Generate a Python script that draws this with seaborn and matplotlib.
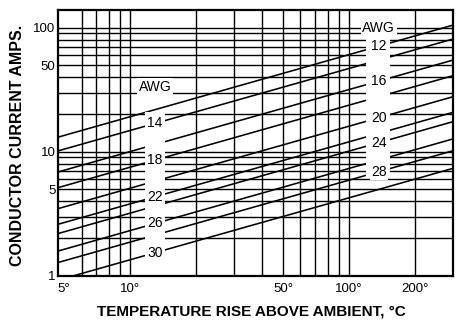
import matplotlib
matplotlib.use('Agg')
import matplotlib.pyplot as plt
import matplotlib.ticker as mticker
from matplotlib.patches import Rectangle
import pandas as pd
import seaborn as sns

# AWG lines: current (A) at 4 and 300 deg C rise
gauges = [12, 14, 16, 18, 20, 22, 24, 26, 28, 30]
temp_ends = [4, 300]
amps_at_4 = [12.1, 9.38, 6.34, 4.74, 3.21, 2.40, 2.02, 1.46, 1.18, 0.85]
amps_at_300 = [105.1, 81.2, 54.9, 41.1, 27.8, 20.8, 17.5, 12.7, 10.2, 7.35]

# gauge labels: left column sits at 13 deg, right column at 137 deg
left_temp = 13
left_gauges = [14, 18, 22, 26, 30]
left_amps = [16.9, 8.57, 4.34, 2.65, 1.53]
left_awg_amps = 33.4
right_temp = 137
right_gauges = [12, 16, 20, 24, 28]
right_amps = [71.2, 37.2, 18.8, 11.8, 6.9]
right_awg_amps = 98.9

x_ticks = [5, 10, 50, 100, 200]
x_ticklabels = ['5°', '10°', '50°', '100°', '200°']
y_ticks = [1, 5, 10, 50, 100]
y_ticklabels = ['1', '5', '10', '50', '100']
x_grid = [6, 7, 8, 9, 10, 20, 30, 40, 50, 60, 70, 80, 90, 100, 200]
y_grid = [2, 3, 4, 5, 6, 7, 8, 9, 10, 20, 30, 40, 50, 60, 70, 80, 90, 100]

sns.set_style('white')
plt.rcParams['font.family'] = ['Liberation Sans', 'DejaVu Sans']
plt.rcParams['text.color'] = 'black'
plt.rcParams['axes.labelcolor'] = 'black'
plt.rcParams['xtick.color'] = 'black'
plt.rcParams['ytick.color'] = 'black'

# long table for seaborn
rows = []
for g, a0, a1 in zip(gauges, amps_at_4, amps_at_300):
    rows.append({'gauge': g, 'temp': temp_ends[0], 'amps': a0})
    rows.append({'gauge': g, 'temp': temp_ends[1], 'amps': a1})
df = pd.DataFrame(rows)

fig = plt.figure(figsize=(4.61, 3.22), dpi=100)
ax = fig.add_axes([0.1265, 0.1438, 0.8568, 0.8252])
ax.set(xscale='log', yscale='log')

sns.lineplot(data=df, x='temp', y='amps', units='gauge', estimator=None,
             color='black', lw=1.15, ax=ax, zorder=2)

ax.set_xlim(4.7, 300)
ax.set_ylim(1, 139)

ax.set_xticks(x_ticks)
ax.set_xticklabels(x_ticklabels, fontsize=9.5)
ax.set_yticks(y_ticks)
ax.set_yticklabels(y_ticklabels, fontsize=9.5)
ax.xaxis.set_minor_locator(mticker.FixedLocator(x_grid))
ax.yaxis.set_minor_locator(mticker.FixedLocator(y_grid))
ax.xaxis.set_minor_formatter(mticker.NullFormatter())
ax.yaxis.set_minor_formatter(mticker.NullFormatter())
ax.xaxis.remove_overlapping_locs = False
ax.yaxis.remove_overlapping_locs = False
ax.tick_params(which='both', length=0)
ax.tick_params(axis='x', pad=5)
ax.tick_params(axis='y', pad=2)
ax.grid(False, which='major')
ax.grid(True, which='minor', color='black', lw=1.0)
ax.set_axisbelow(True)
for s in ax.spines.values():
    s.set_color('black')
    s.set_linewidth(1.6)

# white label columns that break the lines
ax.add_patch(Rectangle((11.7, 1.3), 14.5 - 11.7, 20.8 - 1.3,
                       facecolor='white', edgecolor='none', zorder=3))
ax.add_patch(Rectangle((119.7, 6.3), 154 - 119.7, 95 - 6.3,
                       facecolor='white', edgecolor='none', zorder=3))

box = dict(facecolor='white', edgecolor='none', pad=1)
ax.text(left_temp, left_awg_amps, 'AWG', ha='center', va='center',
        fontsize=10, bbox=box, zorder=4)
ax.text(right_temp, right_awg_amps, 'AWG', ha='center', va='center',
        fontsize=10, bbox=box, zorder=4)
for g, a in zip(left_gauges, left_amps):
    ax.text(left_temp, a, str(g), ha='center', va='center',
            fontsize=10, bbox=box, zorder=4)
for g, a in zip(right_gauges, right_amps):
    ax.text(right_temp, a, str(g), ha='center', va='center',
            fontsize=10, bbox=box, zorder=4)

ax.set_xlabel('TEMPERATURE RISE ABOVE AMBIENT, °C', fontsize=11, fontweight='bold')
ax.set_ylabel('CONDUCTOR CURRENT AMPS.', fontsize=11.5, fontweight='bold')
ax.xaxis.set_label_coords(0.49, -0.11)
ax.yaxis.set_label_coords(-0.085, 0.49)

fig.savefig('out.png', dpi=100)
